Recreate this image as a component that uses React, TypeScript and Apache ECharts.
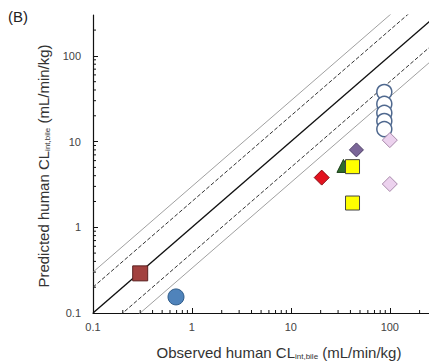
import React, { useEffect, useRef } from "react";
import * as echarts from "echarts";

const panelLabel = "(B)";
const xName = "Observed human CL";
const yName = "Predicted human CL";
const subText = "int,bile";
const unitText = "(mL/min/kg)";

const axisMin = 0.1;
const axisMax = 300;
const tickLabels = ["0.1", "1", "10", "100"];

// fold lines: factor
const foldFactors = [3, 1 / 3, 2, 0.5, 1];

const brownSquare = [[0.3, 0.29]];
const blueCircle = [[0.69, 0.154]];
const redDiamond = [[20.5, 3.8]];
const greenTriangle = [[34, 5.2]];
const yellowSquares = [[42, 5.1], [42, 1.92]];
const purpleDiamond = [[46, 8.0]];
const openCircles = [[88, 37.9], [88, 27.5], [88, 21.6], [88, 17.4], [88, 14.0]];
const pinkDiamonds = [[100, 10.4], [100, 3.2]];

const decades = [0.1, 1, 10, 100];
const minorMultipliers = [2, 3, 4, 5, 6, 7, 8, 9];

export default function App() {
  const ref = useRef<HTMLDivElement>(null);
  useEffect(() => {
    if (!ref.current) return;
    const chart = echarts.init(ref.current, undefined, { renderer: "svg" });

    const minorVals: number[] = [];
    decades.forEach((d) =>
      minorMultipliers.forEach((m) => {
        const v = +(d * m).toPrecision(6);
        if (v < axisMax) minorVals.push(v);
      })
    );

    const fmt = (v: number) => {
      const s = String(+v.toPrecision(6));
      return tickLabels.indexOf(s) >= 0 ? s : "";
    };

    const foldSeries = foldFactors.map((k) => {
      const isId = k === 1;
      const isDash = k === 2 || k === 0.5;
      return {
        type: "line",
        data: [
          [axisMin, axisMin * k],
          [axisMax, axisMax * k],
        ],
        symbol: "none",
        silent: true,
        clip: true,
        lineStyle: {
          color: isId ? "#111" : isDash ? "#333" : "#a0a0a0",
          width: isId ? 1.4 : 1,
          type: isDash ? [4, 2] : "solid",
        },
        z: 1,
      };
    });

    const sc = (data: number[][], symbol: string, size: number, color: string, border: string, bw = 1) => ({
      type: "scatter",
      data,
      symbol,
      symbolSize: size,
      itemStyle: { color, borderColor: border, borderWidth: bw, opacity: 1 },
      z: 3,
    });

    const axisCommon = (margin: number) => ({
      type: "log",
      logBase: 10,
      min: axisMin,
      max: axisMax,
      axisLine: { show: true, lineStyle: { color: "#111", width: 1.2 } },
      axisTick: { show: true, inside: true, length: 5, lineStyle: { color: "#111" } },
      splitLine: { show: false },
      axisLabel: {
        color: "#444",
        fontSize: 11,
        fontFamily: "Liberation Sans, Arial, sans-serif",
        margin,
        showMaxLabel: false,
        formatter: fmt,
      },
    });

    const nameStyle = (text: string) => ({
      text,
      fontSize: 15,
      fill: "#333",
      align: "center",
      verticalAlign: "middle",
      fontFamily: "Liberation Sans, Arial, sans-serif",
      rich: { s: { fontSize: 8, padding: [8, 0, 0, 0], fill: "#333" } },
    });

    const option: any = {
      animation: false,
      grid: { left: 93, right: -8, top: 15, bottom: 51, outerBoundsMode: "none", containLabel: false },
      xAxis: axisCommon(8),
      yAxis: axisCommon(12),
      graphic: [
        {
          type: "text",
          left: 8,
          top: 9,
          style: { text: panelLabel, fontSize: 15, fill: "#222", fontFamily: "Liberation Sans, Arial, sans-serif" },
        },
        {
          type: "text",
          x: 279,
          y: 352,
          style: nameStyle(`${xName}{s|${subText}} ${unitText}`),
        },
        {
          type: "text",
          x: 43,
          y: 166,
          rotation: Math.PI / 2,
          style: nameStyle(`${yName}{s|${subText}} ${unitText}`),
        },
      ],
      series: [
        ...foldSeries,
        {
          type: "custom",
          silent: true,
          clip: false,
          z: 5,
          data: minorVals.map((v) => [v, axisMin]),
          renderItem: (params: any, api: any) => {
            const p = api.coord([api.value(0), axisMin]);
            return {
              type: "line",
              shape: { x1: p[0], y1: p[1], x2: p[0], y2: p[1] - 3 },
              style: { stroke: "#111", lineWidth: 1 },
            };
          },
        },
        {
          type: "custom",
          silent: true,
          clip: false,
          z: 5,
          data: minorVals.map((v) => [axisMin, v]),
          renderItem: (params: any, api: any) => {
            const p = api.coord([axisMin, api.value(1)]);
            return {
              type: "line",
              shape: { x1: p[0], y1: p[1], x2: p[0] + 3, y2: p[1] },
              style: { stroke: "#111", lineWidth: 1 },
            };
          },
        },
        sc(brownSquare, "rect", 15, "#a2413f", "#5a2020"),
        sc(blueCircle, "circle", 16, "#4f83bb", "#2f5c8a"),
        sc(redDiamond, "diamond", 15, "#e3121f", "#8a0a10"),
        sc(greenTriangle, "triangle", 13, "#2f6b2a", "#1c3f19"),
        sc(yellowSquares, "rect", 14, "#ffff00", "#444"),
        sc(purpleDiamond, "diamond", 14, "#7b6698", "#4d3f66"),
        sc(openCircles, "circle", 15, "#ffffff", "#50698f", 1.5),
        sc(pinkDiamonds, "diamond", 15, "#ecd2ee", "#a98aab"),
      ],
    };
    chart.setOption(option);
    return () => chart.dispose();
  }, []);
  return <div ref={ref} style={{ width: 429, height: 364, position: "absolute", left: 0, top: 0 }} />;
}
